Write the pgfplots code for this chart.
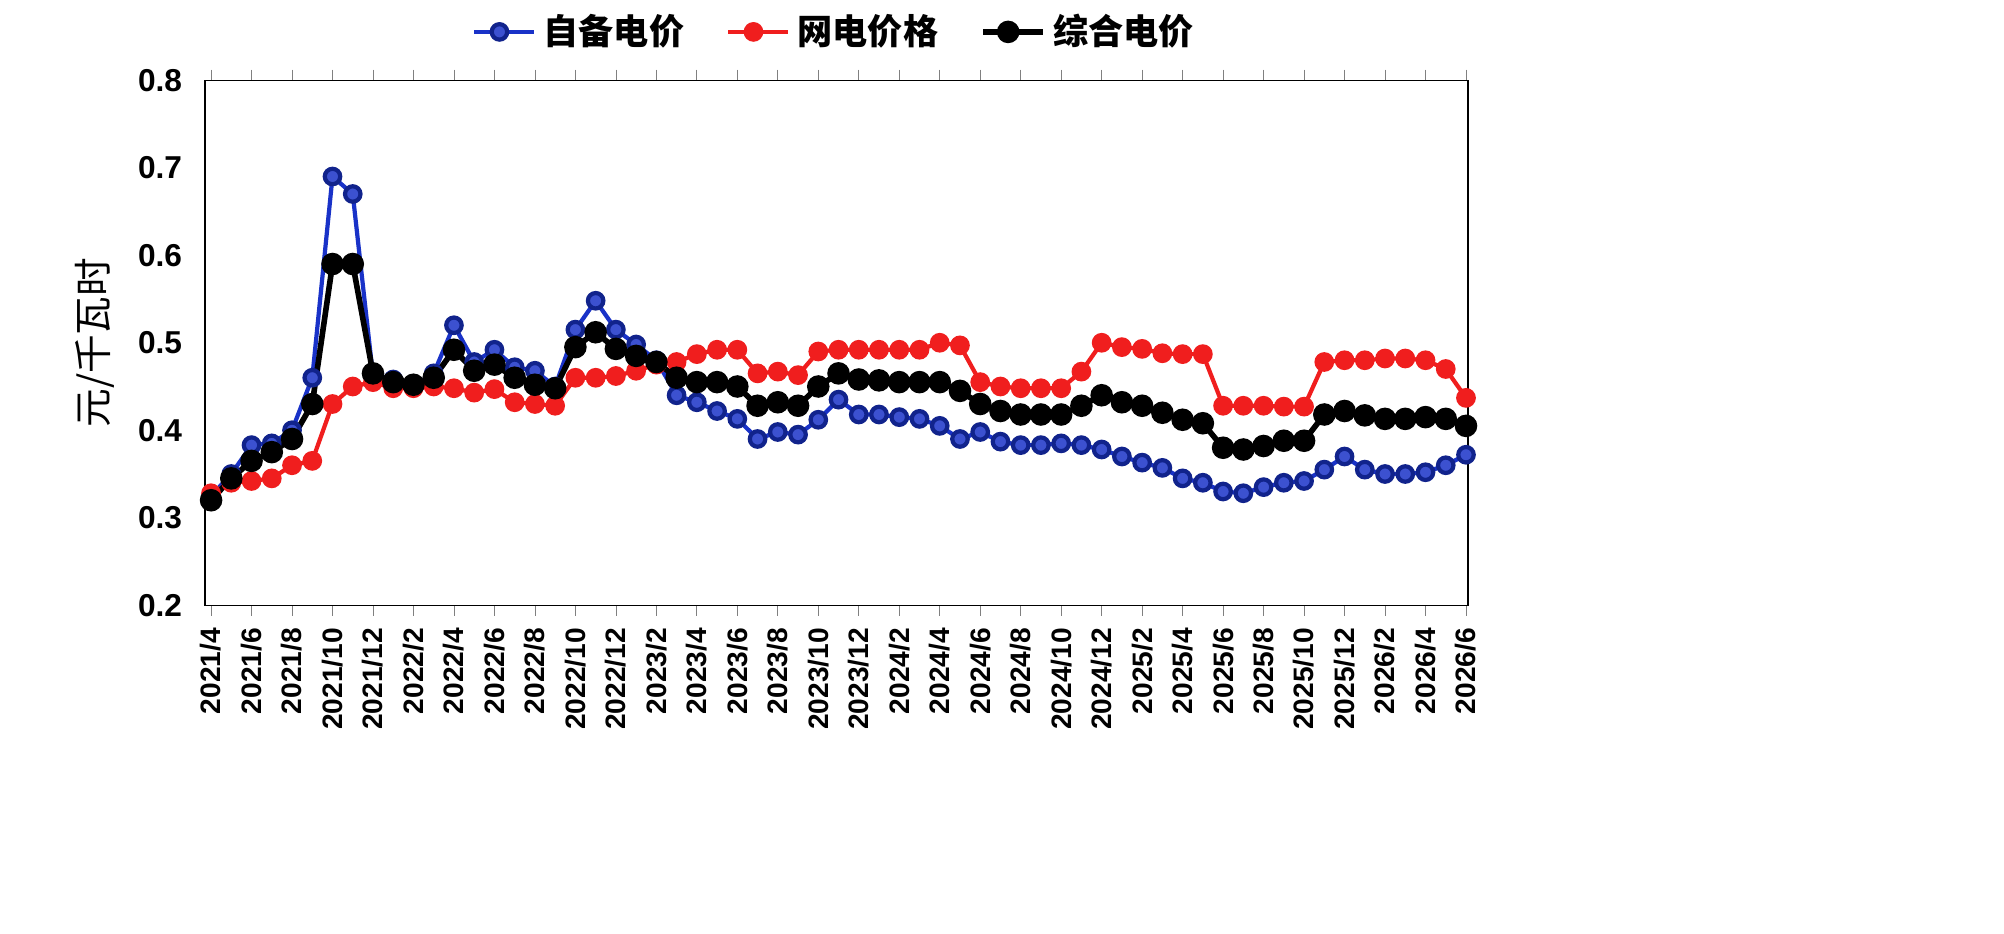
\documentclass[border=0pt]{standalone}
\usepackage{pgfplots}
\pgfplotsset{compat=1.18}
\usepackage{fontspec}
\setmainfont{Liberation Sans}
\newfontfamily\cjk{Noto Sans CJK SC}
\definecolor{cblue}{RGB}{25,50,200}
\definecolor{cred}{RGB}{240,30,30}
\begin{document}
\begin{tikzpicture}
\begin{axis}[at={(0,0)},anchor=south west,
 width=12.63cm,height=5.25cm,scale only axis,
 xmin=-0.3,xmax=62.1,ymin=0.2,ymax=0.8,
 ytick={0.2,0.3,...,0.8},
 yticklabel style={font=\bfseries\fontsize{9}{10}\selectfont,/pgf/number format/fixed,/pgf/number format/precision=1},
 /pgf/number format/assume math mode=true,
 xtick={0,2,...,62},
 xticklabels={2021/4,2021/6,2021/8,2021/10,2021/12,2022/2,2022/4,2022/6,2022/8,2022/10,2022/12,2023/2,2023/4,2023/6,2023/8,2023/10,2023/12,2024/2,2024/4,2024/6,2024/8,2024/10,2024/12,2025/2,2025/4,2025/6,2025/8,2025/10,2025/12,2026/2,2026/4,2026/6},
 xticklabel style={rotate=90,anchor=east,font=\bfseries\fontsize{8}{9}\selectfont},
 tick align=outside, major tick length=3pt, ytick style={draw=none},
 ylabel={\cjk 元/千瓦时}, ylabel style={font=\fontsize{11}{12}\selectfont},
 legend style={at={(0.5,1.03)},anchor=south,draw=none,legend columns=3,font=\cjk\bfseries\fontsize{10}{11}\selectfont,/tikz/every even column/.append style={column sep=10pt}},
 legend image code/.code={\draw[#1] (0cm,0cm)--(0.6cm,0cm); \draw[#1,mark repeat=1] plot coordinates {(0.25cm,0cm)};},
]
\addplot[cblue,line width=1.2pt,mark=*,mark size=2.2pt,mark options={fill=cblue!85!white,draw=cblue!70!black}] coordinates {
(0,0.325)(1,0.35)(2,0.383)(3,0.385)(4,0.40)(5,0.46)(6,0.69)(7,0.67)(8,0.462)(9,0.458)(10,0.45)(11,0.465)(12,0.52)(13,0.478)(14,0.492)(15,0.472)(16,0.468)(17,0.45)(18,0.515)(19,0.548)(20,0.515)(21,0.498)(22,0.48)(23,0.44)(24,0.432)(25,0.422)(26,0.413)(27,0.39)(28,0.398)(29,0.395)(30,0.412)(31,0.435)(32,0.418)(33,0.418)(34,0.415)(35,0.413)(36,0.405)(37,0.39)(38,0.398)(39,0.387)(40,0.383)(41,0.383)(42,0.385)(43,0.383)(44,0.378)(45,0.37)(46,0.363)(47,0.357)(48,0.345)(49,0.34)(50,0.33)(51,0.328)(52,0.335)(53,0.34)(54,0.342)(55,0.355)(56,0.37)(57,0.355)(58,0.35)(59,0.35)(60,0.352)(61,0.36)(62,0.372)};
\addlegendentry{自备电价}
\addplot[cred,line width=1.2pt,mark=*,mark size=2.2pt] coordinates {
(0,0.328)(1,0.34)(2,0.342)(3,0.345)(4,0.36)(5,0.365)(6,0.43)(7,0.45)(8,0.455)(9,0.448)(10,0.448)(11,0.45)(12,0.448)(13,0.443)(14,0.447)(15,0.432)(16,0.43)(17,0.428)(18,0.46)(19,0.46)(20,0.462)(21,0.468)(22,0.475)(23,0.478)(24,0.487)(25,0.492)(26,0.492)(27,0.465)(28,0.467)(29,0.463)(30,0.49)(31,0.492)(32,0.492)(33,0.492)(34,0.492)(35,0.492)(36,0.5)(37,0.497)(38,0.455)(39,0.45)(40,0.448)(41,0.448)(42,0.448)(43,0.467)(44,0.5)(45,0.495)(46,0.493)(47,0.488)(48,0.487)(49,0.487)(50,0.428)(51,0.428)(52,0.428)(53,0.427)(54,0.427)(55,0.478)(56,0.48)(57,0.48)(58,0.482)(59,0.482)(60,0.48)(61,0.47)(62,0.437)};
\addlegendentry{网电价格}
\addplot[black,line width=1.6pt,mark=*,mark size=2.4pt] coordinates {
(0,0.32)(1,0.345)(2,0.365)(3,0.375)(4,0.39)(5,0.43)(6,0.59)(7,0.59)(8,0.465)(9,0.455)(10,0.452)(11,0.46)(12,0.492)(13,0.468)(14,0.475)(15,0.46)(16,0.452)(17,0.448)(18,0.495)(19,0.512)(20,0.493)(21,0.485)(22,0.478)(23,0.46)(24,0.455)(25,0.455)(26,0.45)(27,0.428)(28,0.432)(29,0.428)(30,0.45)(31,0.465)(32,0.458)(33,0.457)(34,0.455)(35,0.455)(36,0.455)(37,0.445)(38,0.43)(39,0.422)(40,0.418)(41,0.418)(42,0.418)(43,0.428)(44,0.44)(45,0.432)(46,0.428)(47,0.42)(48,0.412)(49,0.408)(50,0.38)(51,0.378)(52,0.382)(53,0.388)(54,0.388)(55,0.418)(56,0.422)(57,0.417)(58,0.413)(59,0.413)(60,0.415)(61,0.413)(62,0.405)};
\addlegendentry{综合电价}
\end{axis}
\useasboundingbox (-2.05cm,-3.28cm) rectangle (17.99cm,6.0cm);
\end{tikzpicture}
\end{document}
